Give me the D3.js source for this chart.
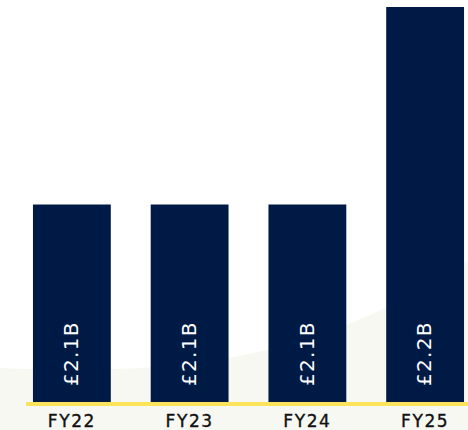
<!DOCTYPE html>
<html>
<head>
<meta charset="utf-8">
<script src="https://cdn.jsdelivr.net/npm/d3@7"></script>
<style>
  html, body { margin: 0; padding: 0; background: #ffffff; }
  svg { display: block; }
</style>
</head>
<body>
<svg id="chart" width="468" height="430"></svg>
<script>
const categories = ["FY22", "FY23", "FY24", "FY25"];
const values = [2.1, 2.1, 2.1, 2.2];
const valueLabels = ["£2.1B", "£2.1B", "£2.1B", "£2.2B"];
const yDomain = [2.0, 2.2];

const svg = d3.select("#chart");
const W = 468, H = 430;

// faint background swoosh
svg.append("path")
  .attr("d", `M0,368 C180,376 320,360 468,260 L468,${H} L0,${H} Z`)
  .attr("fill", "#f8f8f3");

const x = d3.scaleBand()
  .domain(categories)
  .range([13, 484])
  .paddingInner(0.339)
  .paddingOuter(0.1695);

const y = d3.scaleLinear().domain(yDomain).range([402, 7]);

const data = categories.map((c, i) => ({ c, v: values[i], label: valueLabels[i] }));

svg.selectAll("rect.bar")
  .data(data)
  .join("rect")
  .attr("class", "bar")
  .attr("x", d => x(d.c))
  .attr("y", d => y(d.v))
  .attr("width", x.bandwidth())
  .attr("height", d => y(yDomain[0]) - y(d.v))
  .attr("fill", "#001a46");

// baseline
svg.append("rect")
  .attr("x", 26)
  .attr("y", y(yDomain[0]))
  .attr("width", W - 26)
  .attr("height", 4)
  .attr("fill", "#fbe35c");

// value labels (rotated)
svg.selectAll("text.val")
  .data(data)
  .join("text")
  .attr("class", "val")
  .attr("transform", d => `translate(${x(d.c) + x.bandwidth() / 2 - 1},386) rotate(-90)`)
  .attr("dy", "0.36em")
  .attr("text-anchor", "start")
  .attr("fill", "#ffffff")
  .style("font-family", "'DejaVu Sans', sans-serif")
  .style("font-size", "20px")
  .style("letter-spacing", "1.3px")
  .text(d => d.label);

// category axis
const xAxis = d3.axisBottom(x).tickSize(0).tickPadding(0);
const gx = svg.append("g")
  .attr("transform", `translate(0,${y(yDomain[0])})`)
  .call(xAxis);
gx.select(".domain").remove();
gx.selectAll("text")
  .attr("y", 25)
  .attr("dy", 0)
  .attr("fill", "#111111")
  .attr("stroke", "#111111")
  .attr("stroke-width", 0.35)
  .style("font-family", "'DejaVu Sans', sans-serif")
  .style("font-size", "17px")
  .style("letter-spacing", "1.6px");
</script>
</body>
</html>
